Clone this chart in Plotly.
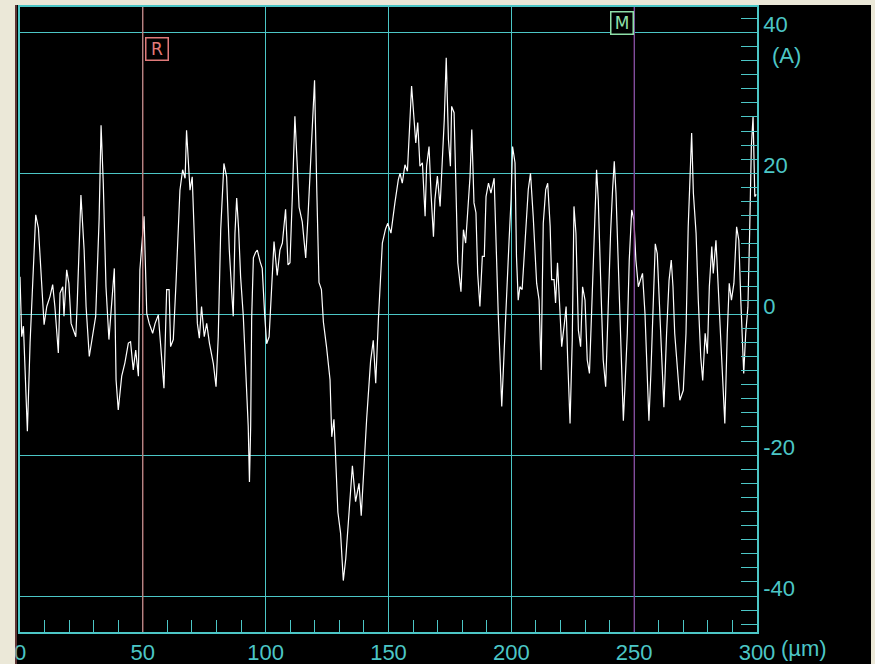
import plotly.graph_objects as go

# ---- data (x in µm, depth in Å) ----
x_um = [0, 0.7, 1.4, 3.0, 4.1, 5.2, 6.4, 7.5, 8.8, 9.8, 10.9, 12.2, 13.3, 14.2, 15.6, 16.3, 17.4, 17.9,
        19.0, 19.9, 20.8, 21.7, 22.7, 23.3, 24.8, 26.1, 26.9, 28.2, 29.6, 30.8, 32.2, 33.0, 33.9, 35.0,
        36.2, 37.3, 38.4, 39.1, 40.0, 41.4, 42.7, 44.1, 45.0, 46.1, 47.1, 48.2, 48.8, 50.5, 51.6, 52.6,
        54.0, 55.0, 56.3, 57.3, 58.6, 59.7, 60.7, 61.3, 62.4, 63.5, 65.1, 66.2, 67.2, 67.8, 69.2, 70.1,
        71.2, 72.2, 73.0, 73.9, 75.0, 76.0, 77.1, 78.7, 79.8, 80.7, 81.7, 83.0, 84.1, 85.2, 86.2, 86.8,
        87.5, 88.2, 89.0, 89.8, 90.9, 92.0, 92.9, 93.4, 93.9, 94.3, 95.0, 95.9, 96.6, 97.7, 98.6, 99.6,
        100.4, 101.4, 102.3, 103.4, 104.7, 105.8, 106.8, 108.1, 109.1, 109.9, 110.9, 111.9, 112.9, 113.6,
        114.9, 116.3, 117.2, 118.3, 119.0, 119.9, 120.8, 121.7, 122.7, 123.5, 124.8, 126.2, 126.9, 127.8,
        128.5, 129.4, 130.5, 131.6, 132.6, 133.9, 135.3, 136.6, 138.0, 138.9, 140.0, 141.1, 142.7, 143.8,
        144.8, 145.9, 147.5, 148.8, 149.7, 151.0, 152.6, 154.0, 154.7, 155.6, 156.7, 157.7, 158.8, 159.4,
        160.1, 161.1, 161.9, 162.8, 163.8, 164.9, 165.5, 166.5, 167.3, 168.3, 168.9, 169.9, 171.0, 171.9,
        172.7, 173.5, 174.4, 175.2, 175.7, 176.7, 177.3, 178.2, 179.5, 180.5, 181.4, 182.5, 183.2, 183.9,
        184.8, 185.6, 186.3, 187.2, 188.2, 189.0, 189.7, 190.7, 191.7, 193.0, 193.8, 194.7, 195.4, 196.1,
        197.1, 198.1, 199.1, 199.9, 200.5, 201.5, 202.1, 202.8, 203.5, 204.4, 205.6, 206.9, 207.8, 208.9,
        210.3, 211.3, 212.1, 213.0, 214.0, 214.8, 215.8, 216.4, 217.4, 218.0, 218.8, 219.8, 220.5, 221.6,
        222.3, 222.9, 223.9, 224.8, 225.5, 226.3, 227.3, 228.2, 229.0, 230.0, 230.9, 231.8, 232.7, 233.7,
        234.7, 235.4, 236.4, 237.4, 238.4, 239.5, 240.4, 241.2, 241.9, 242.6, 243.6, 244.5, 245.6, 246.3,
        247.2, 248.0, 249.0, 249.9, 250.7, 251.7, 252.6, 253.4, 254.4, 255.4, 256.0, 256.8, 257.8, 258.6,
        259.4, 260.2, 261.2, 262.1, 263.2, 264.2, 265.1, 265.8, 266.5, 267.6, 268.6, 270.0, 271.1, 272.0,
        273.4, 274.1, 275.2, 276.1, 277.1, 277.9, 278.9, 279.8, 280.6, 281.6, 282.2, 283.3, 284.3, 285.2,
        286.3, 286.9, 287.9, 288.7, 289.6, 290.6, 291.7, 292.6, 293.4, 294.1, 294.6, 295.4, 296.3, 297.0,
        297.7, 298.4, 299.1, 299.7]
depth_A = [5.3, -3.2, -1.7, -16.6, -4.1, 5.3, 14.1, 12.2, 5.3, -1.5, 1.1, 2.5, 4.2, 1.1, -5.5, 3.0, 3.9, -0.3,
           6.3, 4.4, -1.3, -2.2, -3.2, 1.6, 16.9, 9.1, 1.1, -6.0, -3.2, -0.3, 13.4, 26.8, 18.6, 3.9,
           -3.6, 2.0, 6.5, -9.3, -13.6, -8.8, -6.9, -4.1, -3.9, -7.9, -5.1, -8.8, 6.3, 13.9, 0.1, -1.3,
           -2.7, -1.3, -0.1, -4.6, -10.5, 3.5, 3.5, -4.6, -3.6, 4.4, 17.6, 20.5, 19.3, 26.1, 17.6, 19.5,
           8.2, -1.3, -3.4, 1.1, -3.2, -1.3, -4.1, -7.0, -10.3, -3.2, 12.0, 21.4, 19.5, 9.1, 3.0, -0.3,
           11.5, 16.5, 12.0, 5.3, -0.3, -9.8, -15.9, -23.8, -15.9, -0.6, 8.0, 8.8, 9.1, 7.5, 6.5, -0.1,
           -4.2, -3.2, 3.5, 10.3, 5.5, 9.1, 10.1, 14.9, 7.0, 7.3, 17.2, 28.1, 20.8, 15.2,
           13.1, 8.0, 13.6, 21.8, 27.4, 33.2, 17.7, 4.5, 3.5, -1.1, -4.7, -9.3, -17.4, -14.9,
           -20.5, -28.1, -31.1, -37.8, -34.7, -28.6, -21.5, -26.6, -24.0, -28.6, -21.0, -14.9, -6.7, -3.7,
           -9.8, -0.6, 10.1, 12.1, 12.9, 11.5, 15.8, 19.1, 20.0, 18.6, 21.2, 20.3, 28.1, 32.4,
           29.1, 24.3, 27.2, 21.0, 21.5, 13.9, 21.0, 23.8, 17.2, 11.0, 16.3, 19.6, 15.3, 21.0,
           27.6, 36.4, 24.8, 21.0, 29.5, 28.6, 18.6, 7.3, 3.2, 12.0, 10.1, 15.3, 19.6, 26.2,
           15.8, 14.4, 5.8, 1.1, 8.2, 8.2, 16.7, 18.6, 17.2, 19.3, 8.7, -0.3, -6.5, -13.1,
           -5.1, 3.9, 10.6, 16.3, 23.8, 21.5, 8.2, 2.0, 3.9, 3.5, 10.6, 17.7, 20.0, 13.9,
           4.4, 2.0, -7.9, 12.9, 17.7, 18.6, 12.5, 4.9, 4.9, 1.6, 7.3, 0.1, -4.6, -1.3,
           1.1, -6.0, -15.5, -3.6, 15.3, 11.5, -2.3, -4.6, 3.9, 2.0, -6.5, -8.4, 2.0, 10.5,
           20.5, 16.2, 4.4, -6.5, -10.3, 2.0, 11.5, 17.6, 21.7, 17.2, 6.7, -3.7, -15.1, -9.9,
           -2.7, 7.7, 14.8, 13.4, 7.7, 3.9, 4.8, 5.8, 0.1, -11.3, -15.1, -8.4, 1.0, 10.0,
           8.6, 2.0, -7.5, -13.2, -2.7, 4.8, 7.7, 3.9, -2.7, -8.4, -12.2, -10.8, -2.7, 12.4,
           25.7, 17.2, 11.5, 2.0, -6.1, -9.4, -2.7, -5.6, 3.9, 9.6, 5.8, 10.5, 2.9, -2.7,
           -11.3, -15.5, -2.7, 4.4, 2.0, 4.4, 12.4, 10.5, 2.0, -5.6, -8.4, -2.7, 1.0, 11.5,
           23.8, 28.1, 16.7, 17.0]

x_ticks = [0, 50, 100, 150, 200, 250, 300]
x_ticklabels = ["0", "50", "100", "150", "200", "250", "300"]
y_ticks = [-40, -20, 0, 20, 40]
y_ticklabels = ["-40", "-20", "0", "20", "40"]
x_unit = "(µm)"
y_unit = "(A)"
cursor_R = 50
cursor_M = 250

CYAN = "#4cc6c6"
BEIGE = "#ebe8d8"
FONT = "Liberation Sans, Arial, sans-serif"
FS = 22

W, H = 875, 664
ML, MR, MT, MB = 20, 118, 7, 32
PW, PH = W - ML - MR, H - MT - MB

fig = go.Figure()
fig.add_trace(go.Scatter(x=x_um, y=depth_A, mode="lines",
                         line=dict(color="#ffffff", width=1.2),
                         hoverinfo="skip", showlegend=False))

fig.update_layout(
    width=W, height=H,
    margin=dict(l=ML, r=MR, t=MT, b=MB, pad=0, autoexpand=False),
    paper_bgcolor="#000000", plot_bgcolor="#000000",
    showlegend=False,
    xaxis=dict(range=[0, 300], tickmode="array", tickvals=x_ticks, ticktext=x_ticklabels,
               automargin=False,
               showgrid=True, gridcolor=CYAN, gridwidth=1.4, zeroline=False,
               showline=True, linecolor=CYAN, linewidth=1.5, mirror=True,
               ticks="inside", ticklen=12, tickcolor=CYAN, tickwidth=1,
               minor=dict(dtick=10, tick0=0, ticks="inside", ticklen=12, tickcolor=CYAN,
                          tickwidth=1, showgrid=False),
               tickfont=dict(family=FONT, size=FS, color=CYAN), ticklabelstandoff=0),
    yaxis=dict(range=[-45.1, 43.6], side="right", tickmode="array", tickvals=y_ticks,
               ticktext=y_ticklabels, automargin=False,
               showgrid=True, gridcolor=CYAN, gridwidth=1.4, zeroline=False,
               showline=True, linecolor=CYAN, linewidth=1.5, mirror=True,
               ticks="inside", ticklen=16, tickcolor=CYAN, tickwidth=1,
               minor=dict(dtick=2, tick0=0, ticks="inside", ticklen=16, tickcolor=CYAN,
                          tickwidth=1, showgrid=False),
               tickfont=dict(family=FONT, size=FS, color=CYAN),
               ticklabelshift=-8, ticklabelstandoff=0),
)

# cursor lines
fig.add_shape(type="line", xref="x", yref="paper", x0=cursor_R, x1=cursor_R, y0=0, y1=1,
              line=dict(color="#d07474", width=1.2), layer="above")
fig.add_shape(type="line", xref="x", yref="paper", x0=cursor_M, x1=cursor_M, y0=0, y1=1,
              line=dict(color="#8a2f8e", width=1.2), layer="above")

# window frame strips (beige)
fig.add_shape(type="rect", xref="paper", yref="paper",
              x0=-ML / PW, x1=-5 / PW, y0=-MB / PH, y1=1 + MT / PH,
              fillcolor=BEIGE, line=dict(width=0), layer="above")
fig.add_shape(type="rect", xref="paper", yref="paper",
              x0=-ML / PW, x1=1 + MR / PW, y0=1 + 2 / PH, y1=1 + MT / PH,
              fillcolor=BEIGE, line=dict(width=0), layer="above")
fig.add_shape(type="rect", xref="paper", yref="paper",
              x0=1 + (MR - 4) / PW, x1=1 + MR / PW, y0=-MB / PH, y1=1 + MT / PH,
              fillcolor=BEIGE, line=dict(width=0), layer="above")
fig.add_shape(type="line", xref="paper", yref="paper",
              x0=-4 / PW, x1=-4 / PW, y0=-MB / PH, y1=1 + 2 / PH,
              line=dict(color="#b86a6a", width=1), layer="above")

# unit labels
fig.add_annotation(text=y_unit, xref="paper", x=1, xshift=13, xanchor="left",
                   yref="y", y=36.7, yanchor="middle", showarrow=False,
                   font=dict(family=FONT, size=FS, color=CYAN))
fig.add_annotation(text=x_unit, xref="paper", x=1, xshift=22, xanchor="left",
                   yref="paper", y=0, yshift=-16, yanchor="middle", showarrow=False,
                   font=dict(family=FONT, size=FS, color=CYAN))

# cursor markers
fig.add_annotation(text="R", xref="x", x=cursor_R, xshift=2, xanchor="left",
                   yref="y", y=39.3, yanchor="top", showarrow=False,
                   width=21, height=21, borderpad=0, borderwidth=1.5,
                   bordercolor="#e07a7a", bgcolor="#000000",
                   font=dict(family="DejaVu Sans", size=17, color="#e07a7a"))
fig.add_annotation(text="M", xref="x", x=cursor_M, xanchor="right",
                   yref="y", y=43.1, yanchor="top", showarrow=False,
                   width=21, height=21, borderpad=0, borderwidth=1.5,
                   bordercolor="#8ee0a8", bgcolor="#000000",
                   font=dict(family="DejaVu Sans", size=17, color="#8ee0a8"))

fig.write_html("out.html", config={"displayModeBar": False},
               post_script="document.body.style.margin='0';document.body.style.background='#000';")
